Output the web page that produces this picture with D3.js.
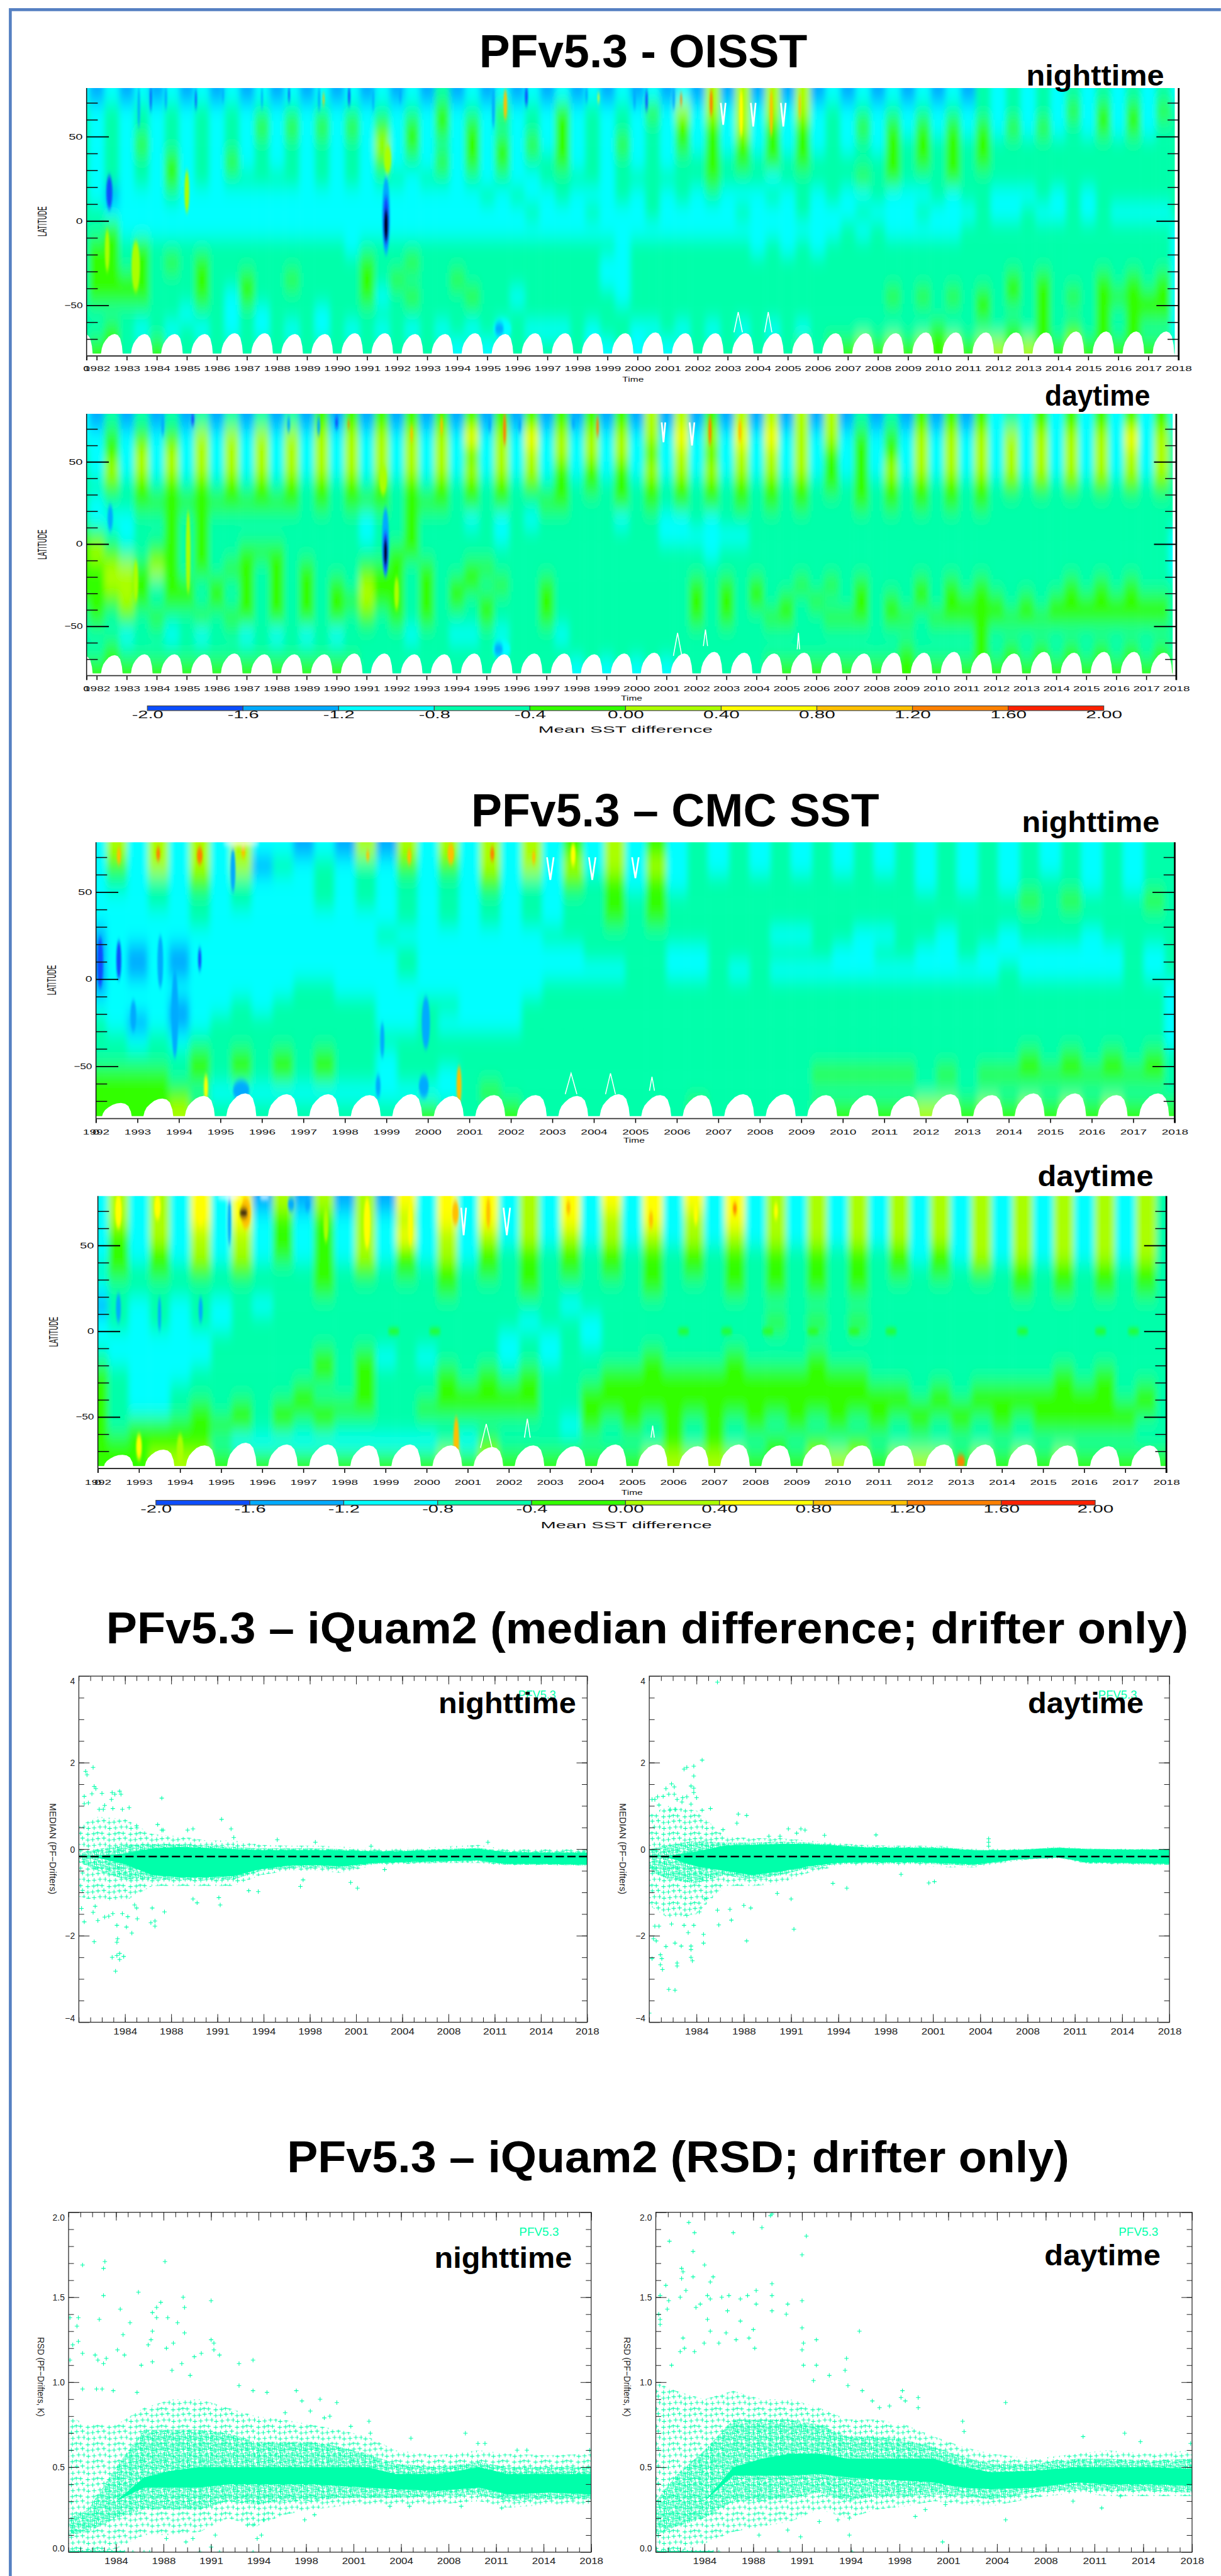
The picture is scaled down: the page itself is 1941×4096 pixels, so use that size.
<!DOCTYPE html>
<html>
<head>
<meta charset="utf-8">
<style>
  html, body { margin: 0; padding: 0; background: #fff; }
  svg { display: block; }
  text { font-family: "Liberation Sans", Arial, sans-serif; }
</style>
<script src="https://cdn.jsdelivr.net/npm/d3@7"></script>
</head>
<body>
<div id="chart"></div>
<script>
// colour bar of the four latitude/time panels
const barTicks = [-2, -1.6, -1.2, -0.8, -0.4, 0, 0.4, 0.8, 1.2, 1.6, 2]
const barLabels = ["-2.0", "-1.6", "-1.2", "-0.8", "-0.4", "0.00", "0.40", "0.80", "1.20", "1.60", "2.00"]
const barColors = ["#0b4dff", "#00aaff", "#00ffff", "#00ffaa", "#33ff00", "#aaff00", "#ffff00", "#ffc000", "#ff8000", "#ff2000"]
// one code per cell: 0 is below the scale, 1-9 and a are the ten colour bar classes
const cellValues = { "0": -2.3, "1": -1.8, "2": -1.4, "3": -1, "4": -0.6, "5": -0.2, "6": 0.2, "7": 0.6, "8": 1, "9": 1.4, a: 1.8 }

// rows run from 80N to 80S in 10 degree bands, two cells a year
const oisstNight = [
  "3 2323232323 2323232323 2324232323 2323232323 2626262623 2323232324 3434343434 34 3",
  "4 3434343434 3434343434 3435343534 3534343536 3636363634 3434343434 3434353535 35 4",
  "4 3434343434 3535353535 3535353434 3534343435 3536353534 3535353535 3535343535 34 4",
  "4 3435343434 3434343436 3534353535 3534353435 3535353534 3435454545 4444444444 44 4",
  "4 3434353435 3434343435 3435353534 4534343434 4545454544 4445454545 4444444444 44 4",
  "4 3434353434 4444343434 4344343433 4444344444 4544434444 4545444544 4444444444 44 4",
  "4 3233343333 3333333333 3333334343 3433343434 3433343434 3343334344 3334343444 44 4",
  "4 4333333333 3333333333 3333333334 3334333433 3334333433 3433343334 3343343433 33 4",
  "4 4533333333 3333333333 3333333333 3333333333 3333333333 4343333344 4444444444 44 3",
  "4 5545444444 4444444344 4444444444 4444434444 4444343434 4444444444 4444444444 44 3",
  "4 5545454544 4444444454 4544444444 4444334444 4444444444 4444444444 4444444444 44 3",
  "4 5555444544 5445444454 5444544444 4444334444 4444444444 4444444444 4545444545 45 3",
  "4 5555444543 5444444453 4544454434 4444434444 4444444444 4445454545 4545454555 55 3",
  "4 4444443443 4344434444 4444444444 4444444444 4444444444 4444444445 4445444545 55 3",
  "4 4543434343 4343434343 4343434343 3343443343 4343434344 4444445444 4545454545 44 3",
  "4 5544544444 4444444444 4444343444 4443343434 4444444545 5656565656 6565565555 55 4"
]
const oisstDay = [
  "3 2424242424 2424252525 2525252525 2525252626 2526262626 2424252525 3435353535 35 3",
  "3 3535353636 3636363636 3636373637 3636363637 3637373636 3535363636 3636363637 36 4",
  "4 3536363636 3636363636 3636353636 3636363536 3536363635 3535363636 3636363636 36 4",
  "4 3636363636 3636363636 3636363636 3535353636 3636363635 3536363636 3636363636 36 4",
  "4 4545454545 4545454545 4545454545 4545454545 4545454545 4545454545 4545454545 45 4",
  "4 3445555555 5555454555 4555454544 5544454545 4545454544 4545454545 4444444444 44 4",
  "4 3334454544 4444444434 4544434343 4444434433 4344444444 4444444444 4444444444 44 4",
  "5 5434454544 4444444434 4544444344 4444444433 3333444444 4444444444 4444444444 44 3",
  "5 6544554544 5554444444 5544444444 4444444444 4344444444 4444444444 4444444444 44 3",
  "5 5665654545 5454544455 5454455444 4444444444 4444444444 4444444444 4444444444 44 3",
  "5 5665455454 5454545465 5454554544 5444444444 5454544545 4544454545 4444454545 44 4",
  "5 5565455454 5454545565 5454545444 5444444444 5454545454 4545454555 5454555555 55 4",
  "4 5454544545 5454545454 5454445444 5444444444 5454455445 5545545555 5555555555 55 4",
  "4 4434434344 3434343444 4344334344 4344444444 4444444444 4444444445 4444444444 44 4",
  "4 4544444444 4444444444 4444444444 4444444444 4444444444 4444544445 4545454545 45 4",
  "5 5555555555 5555555544 4444444444 4434343434 4444455555 5555555555 5555555555 55 5"
]
const cmcNight = [
  "3636363633 2326263636 3635363534 3434343434 3434343434 34 4",
  "3536363624 3434353536 3636363634 3434343434 3434343434 34 4",
  "3434353433 3434343435 3435453534 4444444444 3434344434 34 4",
  "3334343433 3434343434 3434454544 4444444444 4444454544 45 4",
  "3333343333 3333343434 3434454544 4444444444 4444444444 44 4",
  "2333333333 3333433333 3344444444 4443344334 4344344434 44 4",
  "2323233333 3333343333 3333444433 4444443344 3343333333 43 4",
  "2323233333 3333343333 3333334433 4343333333 3333433333 43 4",
  "2333333333 4433333333 3344444444 4444444444 4444444444 44 3",
  "3333233434 4444334433 3444444444 4444444444 4444444444 44 3",
  "4323234444 4444334333 3444444444 4444444444 4444444444 44 3",
  "4434344444 4444444444 4444444444 4444444444 4444444444 44 3",
  "4444454545 4544344444 4444444444 4444444444 4444454545 45 4",
  "5555454545 4544344344 4444444444 4444455555 4545555555 55 4",
  "5555543333 3333333345 4444444444 4444444444 4444444444 44 4",
  "5555654444 4444445444 5444444445 4444455555 6656565656 55 5"
]
const cmcDay = [
  "3636373726 2626273737 3637373737 3736363636 3636363636 36 4",
  "3636373735 3536363737 3637363736 3736363636 3636363636 36 4",
  "3536363635 3536373636 3636363636 3636363636 3636363636 36 4",
  "3535363635 3536353635 4545454545 4545454545 3536363636 36 4",
  "4545454544 4545454545 4545454545 4545454545 4545454545 45 4",
  "3444444444 4544444544 4544444544 4545454544 4444454545 45 4",
  "2434343434 4444444444 4443444444 4444444444 4444444444 44 4",
  "3434343444 4444444444 4344344444 4445454544 4444444444 44 4",
  "3333334444 4444444444 3434344444 4444444444 4444444444 44 4",
  "4333334444 4545343444 3434444544 4544454444 4444444444 44 4",
  "5433344444 4545444545 4544455555 5555555544 4444444545 44 4",
  "5433444444 5445444555 5544555555 5555555555 4545555555 45 4",
  "5433454545 5555445555 5544555555 5555555555 5555555555 55 4",
  "5455555545 4544444444 4443545454 5454545454 5454545555 54 4",
  "5555554333 3333333435 4444444454 5445454544 4444444444 44 4",
  "5556665555 5555555656 5555555666 6655566656 6656565655 55 5"
]

// narrow features the cells are too coarse for: year, top lat, bottom lat, half width in years, cell code
const oisstNightSpots = [
  [1983.4,80,55,.04,"2"],[1983.8,80,65,.03,"1"],[1984.3,80,66,.04,"2"],[1985.3,78,66,.03,"1"],[1986.2,80,70,.03,"2"],
  [1987.5,80,66,.03,"2"],[1988.4,80,70,.03,"1"],[1989.4,80,65,.04,"2"],[1990.4,80,68,.04,"1"],[1991.2,78,65,.03,"2"],
  [1992.1,80,70,.04,"2"],[1995.2,80,55,.05,"2"],[1996.3,80,68,.05,"1"],[1998.3,80,70,.04,"2"],[1999.9,80,66,.04,"2"],
  [2000.3,78,65,.04,"1"],[2001.2,80,66,.04,"2"],[1991.68,45,28,.12,"6"],[1985,30,5,.08,"6"],[1982.35,-5,-30,.08,"6"],
  [1983.3,-12,-42,.14,"6"],[1995.5,-58,-70,.3,"3"],[1995.4,-60,-68,.15,"2"],[1995.6,78,60,.06,"8"],[1989.55,76,68,.03,"8"],[1998.7,76,70,.03,"7"],
  [2002.45,78,62,.05,"9"],[2001.45,76,68,.03,"9"],[2003.45,78,50,.06,"7"],[2004.45,78,50,.05,"8"],[2005.4,76,60,.03,"8"],
  [1982.42,27,7,.1,"1"],[1991.63,26,-20,.13,"2"],[1991.63,15,-15,.1,"1"],[1991.63,7,-12,.07,"0"]
]
const oisstDaySpots = [
  [1984.2,80,66,.05,"2"],[1985.2,80,72,.05,"1"],[1988.4,78,68,.05,"2"],[1989.4,78,66,.05,"2"],[1990,78,70,.05,"1"],
  [1995.1,80,68,.05,"2"],[1996.1,78,68,.05,"2"],[1997.9,78,70,.05,"2"],[1991.55,48,30,.12,"6"],[1985.05,20,-30,.08,"6"],
  [1983.3,-10,-35,.08,"6"],[1992,-20,-40,.08,"6"],[1995.5,-58,-70,.3,"3"],[1995.4,-60,-68,.15,"2"],[1995.6,80,60,.05,"9"],[1998.7,78,65,.04,"9"],
  [1990.4,76,70,.03,"9"],[1992.5,72,62,.04,"8"],[1993.5,78,66,.04,"8"],[2002.45,78,60,.05,"9"],[2003.45,76,62,.05,"8"],
  [1982.45,24,8,.09,"2"],[1991.63,22,-20,.12,"2"],[1991.63,8,-18,.09,"1"],[1991.63,3,-13,.06,"0"]
]
const cmcNightSpots = [
  [1995.5,80,77,.45,"w"],[1992.1,24,-5,.07,"1"],[1992.55,22,0,.06,"1"],[1993.55,25,-5,.07,"2"],[1993.9,5,-45,.08,"2"],
  [1992.9,-12,-30,.07,"2"],[1994.5,18,5,.04,"1"],[1999.95,-10,-40,.1,"2"],[1998.9,-25,-45,.05,"2"],[1995.5,-58,-70,.2,"2"],
  [1998.8,-55,-68,.06,"2"],[1999.9,-55,-68,.12,"2"],[1995.3,75,50,.06,"2"],[2000.75,-50,-72,.06,"8"],[1994.65,-55,-70,.05,"7"],
  [1992.55,76,66,.05,"8"],[1993.5,76,68,.05,"9"],[1994.5,76,66,.07,"9"],[1995.55,76,70,.05,"8"],[1998.55,74,68,.04,"8"],
  [1999.55,75,66,.05,"8"],[2000.55,78,66,.08,"8"],[2001.55,76,68,.05,"9"],[2002.55,74,66,.04,"8"],[2003.5,78,65,.06,"7"]
]
const cmcDaySpots = [
  [1995.2,80,77,.3,"w"],[1996.05,80,77,.12,"w"],[1992.5,22,5,.06,"2"],[1993.5,20,0,.04,"2"],[1994.5,20,5,.05,"2"],
  [1995.2,78,50,.04,"2"],[1996.7,78,70,.08,"2"],[1997.1,78,70,.06,"2"],[2000.72,-50,-78,.07,"8"],[1993,-60,-75,.07,"7"],
  [1994,-60,-78,.08,"6"],[1992,-55,-78,.08,"5"],[2013,-72,-80,.1,"9"],[1992.5,80,60,.08,"7"],[1993.45,80,65,.08,"7"],
  [1994.5,80,62,.1,"7"],[1995.6,78,60,.12,"8"],[1997.55,72,52,.06,"6"],[1998.55,78,48,.08,"7"],[1999.6,76,50,.06,"7"],
  [2000.7,76,62,.08,"8"],[2001.5,78,60,.05,"8"],[2002.5,76,60,.05,"6"],[2003.45,76,68,.05,"8"],[2005.46,70,60,.05,"8"],
  [2006.55,75,62,.05,"7"],[2007.5,75,68,.05,"9"],[2008.5,75,65,.05,"7"],[1999.2,1.5,-1.5,.15,"5"],[2000.2,1.5,-1.5,.15,"5"],
  [2006.25,1.5,-1.5,.15,"5"],[2007.3,1.5,-1.5,.15,"5"],[2008.3,1.5,-1.5,.15,"5"],[2009.4,1.5,-1.5,.15,"5"],[2010.4,1.5,-1.5,.15,"5"],
  [2011.3,1.5,-1.5,.15,"5"],[2014.5,1.5,-1.5,.15,"5"],[2016.4,1.5,-1.5,.15,"5"],[2017.2,1.5,-1.5,.15,"5"],[1995.55,72,66,.1,"0"]
]

// thin white gaps in the maps: year, tip lat, end lat, half span in years
const oisstNightGaps = [[2002.85,57,70,.08],[2003.85,56,70,.08],[2004.85,56,70,.08],[2003.35,-54,-66,.14],[2004.35,-54,-66,.12]]
const oisstDayGaps = [[2000.9,62,74,.06],[2001.85,60,74,.08],[2001.37,-54,-68,.14],[2002.3,-52,-62,.07],[2005.4,-54,-64,.04]]
const cmcNightGaps = [[2002.95,57,70,.08],[2003.96,57,70,.08],[2005,58,70,.08],[2003.45,-54,-66,.14],[2004.4,-54,-66,.12],[2005.4,-56,-64,.06]]
const cmcDayGaps = [[2000.9,56,72,.06],[2001.95,56,72,.08],[2001.45,-54,-68,.14],[2002.45,-51,-62,.07],[2005.5,-55,-62,.04]]

// top of the white polar gap in each year, latitude
const oisstNightIce = [-67,-67,-67,-67,-67,-66.5,-66.5,-67,-67,-66.5,-66.5,-67,-67,-66.5,-67,-66.5,-66.5,-66.5,-66.5,-66,-66.5,-66.5,-66.5,-66.5,-66.5,-66.5,-66.5,-66.5,-66,-66,-66,-66,-66,-65.5,-65.5,-65.5,-65.5]
const oisstDayIce = [-68,-67.5,-67,-67,-67,-66.5,-67,-67,-67,-66.5,-66.5,-67,-67,-66.5,-67,-66.5,-66.5,-67,-66.5,-66,-66.5,-65.5,-66,-66.5,-66,-66,-66.5,-66,-66,-65.5,-66,-66.5,-65.5,-66,-65.5,-65.5,-66]
const cmcNightIce = [-71,-68.5,-67,-65.5,-66,-66,-66.5,-66,-67,-66.5,-66.5,-67,-66,-66.5,-66.5,-66,-66,-66.5,-66.5,-67,-66,-66.5,-65.5,-65.5,-66.5,-65.5]
const cmcDayIce = [-72,-69,-66.5,-65,-66,-66,-66.5,-66,-66.5,-67.5,-66.5,-67,-66,-66,-67,-66,-66.5,-66,-66.5,-66.5,-66,-66,-66,-66.5,-67,-66.5]
const iceFrac = [.13,.17,.22,.3,.4,.5,.6,.7,.78,.84,.87]
const iceLift = [0,.35,.55,.72,.88,.97,1,.95,.8,.45,0]

// the iQuam scatter plots
const xMajor = [1984,1987.4,1990.8,1994.2,1997.6,2001,2004.4,2007.8,2011.2,2014.6,2018]
const xMajorLabels = ["1984","1988","1991","1994","1998","2001","2004","2008","2011","2014","2018"]
const bandYears = [1980.6,1982,1984,1986,1988,1990,1992,1994,1996,1998,2000,2002,2004,2007,2010,2012,2015,2018]

const medNightOuterHi = [.55,.75,.7,.35,.3,.2,.2,.1,.08,.08,.06,.02,.02,.05,.1,0,0,0]
const medNightOuterLo = [-1.1,-1.2,-1.2,-.85,-.85,-.85,-.85,-.6,-.5,-.5,-.55,-.4,-.35,-.32,-.32,-.38,-.38,-.4]
const medNightDenseHi = [-.1,0,.1,.12,.12,.08,.05,.02,.02,.02,0,-.03,-.03,0,.03,-.05,-.06,-.06]
const medNightDenseLo = [-.3,-.5,-.7,-.7,-.72,-.72,-.7,-.5,-.43,-.42,-.45,-.35,-.32,-.3,-.28,-.36,-.36,-.38]
const medNightCoreHi = [-.15,-.15,-.1,.02,.05,.03,0,-.02,-.02,-.02,-.03,-.05,-.05,-.02,.01,-.07,-.08,-.08]
const medNightCoreLo = [-.16,-.2,-.35,-.6,-.65,-.65,-.62,-.46,-.38,-.37,-.4,-.33,-.3,-.28,-.26,-.34,-.34,-.36]

const medDayOuterHi = [.8,1,.9,.3,.25,.25,.2,.14,.1,.08,.08,.07,.02,.02,.06,.03,.02,.02]
const medDayOuterLo = [-1.3,-1.6,-1.5,-.85,-.85,-.8,-.55,-.4,-.38,-.38,-.38,-.42,-.42,-.27,-.22,-.33,-.36,-.38]
const medDayDenseHi = [0,.1,.2,.15,.15,.18,.15,.1,.06,.05,.05,.04,-.02,-.01,.04,.01,0,0]
const medDayDenseLo = [-.5,-.7,-.8,-.6,-.7,-.6,-.45,-.35,-.33,-.33,-.33,-.36,-.38,-.25,-.2,-.32,-.34,-.36]
const medDayCoreHi = [-.15,-.15,-.05,.08,.1,.12,.12,.08,.04,.03,.03,.02,-.03,-.02,.03,0,-.01,-.01]
const medDayCoreLo = [-.16,-.2,-.4,-.5,-.6,-.52,-.4,-.32,-.3,-.3,-.3,-.33,-.35,-.24,-.19,-.3,-.32,-.34]

const rsdNightOuterHi = [.8,.75,.75,.85,.9,.9,.85,.8,.78,.75,.72,.68,.6,.57,.6,.58,.57,.58]
const rsdNightOuterLo = [0,0,.02,.1,.1,.12,.2,.15,.22,.25,.27,.28,.28,.28,.3,.26,.28,.28]
const rsdNightDenseHi = [.2,.25,.5,.72,.72,.72,.7,.65,.65,.65,.62,.58,.52,.5,.53,.5,.5,.5]
const rsdNightDenseLo = [.1,.12,.2,.25,.25,.25,.3,.28,.3,.3,.32,.32,.32,.33,.34,.3,.31,.31]
const rsdNightCoreHi = [.2,.2,.3,.44,.48,.5,.5,.5,.5,.5,.5,.5,.46,.46,.5,.46,.46,.46]
const rsdNightCoreLo = [.2,.2,.3,.38,.38,.38,.4,.4,.4,.4,.39,.38,.37,.36,.38,.34,.35,.34]

const rsdDayOuterHi = [1,.95,.9,.95,.9,.9,.85,.78,.78,.75,.68,.62,.58,.55,.58,.6,.58,.6]
const rsdDayOuterLo = [0,0,.05,.12,.15,.18,.25,.2,.25,.27,.3,.28,.27,.32,.35,.33,.33,.33]
const rsdDayDenseHi = [.3,.45,.6,.78,.78,.78,.75,.68,.68,.66,.62,.56,.52,.52,.55,.55,.54,.55]
const rsdDayDenseLo = [.1,.15,.2,.3,.3,.32,.35,.3,.33,.33,.34,.33,.31,.35,.37,.36,.36,.35]
const rsdDayCoreHi = [.3,.3,.3,.5,.55,.58,.58,.55,.55,.55,.55,.5,.47,.48,.5,.5,.5,.49]
const rsdDayCoreLo = [.3,.3,.3,.45,.45,.45,.46,.44,.43,.42,.41,.38,.37,.38,.41,.4,.4,.39]

// single crosses that stand clear of the cloud
const medNightPoints = [[1981.1,1.8],[1981.2,1.72],[1981.65,1.89],[1981.73,1.45],[1981.85,1.4],[1981.56,1.28],[1981,1.22],[1982.3,1.29],[1983.05,1.31],[1983.6,1.34],[1983.7,1.27],[1983.25,1.27],[1986.7,1.18],[1983,1.15],[1981.3,1.07],[1981,1.05],[1982.5,1.01],[1984.3,.96],[1982.1,.92],[1983.1,.94],[1982.4,.92],[1983.8,.92],[1991.1,.69],[1986.4,.57],[1984.85,.54],[1991.8,.47],[1989,.47],[1988.6,.44],[1986.7,.44],[1986.8,.44],[1995.2,.22],[1998,.16],[1992,.27],[2002.1,.07],[2010.7,.16],[1981.73,-2.14],[1983.05,-2.5],[1983.4,-2.46],[1983.6,-2.41],[1983.9,-2.48],[1983.6,-2.55],[1983.3,-2.82],[1983.45,-2.07],[1983.4,-2.15],[1984.5,-1.94],[1984.1,-1.8],[1983.4,-1.76],[1981,-1.68],[1982,-1.65],[1984.9,-1.61],[1985.9,-1.7],[1986.2,-1.78],[1986.2,-1.66],[1980.8,-1.37],[1981.8,-1.32],[1981.65,-1.46],[1982.5,-1.57],[1982.8,-1.55],[1983.1,-1.49],[1983.8,-1.49],[1984.2,-1.56],[1984.85,-1.36],[1984.7,-1.29],[1986,-1.36],[1986.9,-1.45],[1991,-1.29],[1990.9,-1.12],[1989.3,-1.24],[1989,-1.15],[1996.9,-.86],[2001.1,-.9],[1997.1,-.71],[1993.8,-.98],[1993.1,-.96],[2000.6,-.77],[2003.1,-.47]]
const medDayPoints = [[1985.5,3.86],[1984.4,2.06],[1983.8,1.92],[1983.3,1.89],[1983.1,1.85],[1983.8,1.69],[1982.2,1.51],[1982.4,1.44],[1983.6,1.46],[1983.8,1.41],[1983.8,1.31],[1981.8,1.4],[1982,1.27],[1982.4,1.27],[1981.6,1.22],[1981.2,1.21],[1984,1.19],[1983.3,1.21],[1983,1.19],[1982.6,1.15],[1982.95,1.09],[1980.8,1.15],[1981,1.15],[1981.3,1.02],[1983.6,1.04],[1985,.94],[1984.4,.9],[1982.1,.92],[1982.45,.92],[1987,.81],[1987.6,.78],[1986.9,.6],[1985.9,.45],[1990.6,.47],[1991.5,.47],[1991.8,.44],[1996.9,.33],[2005,.24],[2005,.16],[2005,.07],[1991.2,.37],[1989.2,.3],[1990,.3],[1993.2,.32],[1982.45,-3.26],[1982,-3.24],[1980.6,-3.79],[1982.6,-2.7],[1982.6,-2.63],[1981.55,-2.78],[1981.4,-2.67],[1981.5,-2.53],[1980.8,-2.53],[1981.4,-2.44],[1983.7,-2.58],[1983.6,-2.5],[1981.8,-2.25],[1982.45,-2.17],[1982.9,-2.24],[1983.6,-2.24],[1983.6,-2.32],[1984.5,-2.17],[1987.6,-2.12],[1991,-1.85],[1981.1,-2.12],[1980.9,-2.07],[1983.4,-1.93],[1984.5,-1.97],[1985.6,-1.75],[1986.5,-1.64],[1981,-1.78],[1981.3,-1.78],[1982.2,-1.73],[1983.1,-1.76],[1983.8,-1.76],[1983.3,-1.53],[1985.5,-1.41],[1986.4,-1.39],[1987.4,-1.3],[1987.9,-1.36],[1984.2,-1.45],[1984.6,-1.15],[1990.8,-1.15],[1989.8,-1.02],[2000.7,-.78],[2001.1,-.75],[1998.7,-.58],[1994.8,-.9],[1993.8,-.79]]
const rsdNightPoints = [[1981.6,1.69],[1983.2,1.71],[1983.1,1.67],[1983.1,1.51],[1987.5,1.71],[1985.6,1.53],[1988.8,1.5],[1988.9,1.44],[1990.8,1.48],[1987.2,1.47],[1986.9,1.44],[1984.3,1.43],[1986.6,1.41],[1987.7,1.38],[1986.9,1.38],[1980.7,1.38],[1981.3,1.38],[1981.2,1.33],[1982.8,1.37],[1985,1.35],[1988.4,1.35],[1984.5,1.28],[1986.6,1.3],[1988.9,1.29],[1990.8,1.25],[1991,1.23],[1981.3,1.24],[1980.9,1.22],[1986.5,1.25],[1986.3,1.22],[1987.6,1.2],[1988.1,1.23],[1982.5,1.16],[1981.6,1.17],[1984.6,1.16],[1984.1,1.19],[1983.3,1.14],[1982.7,1.13],[1983.1,1.11],[1993.8,1.13],[1992.8,1.11],[1991.4,1.16],[1990.1,1.17],[1989.6,1.15],[1991,1.19],[1986.6,1.12],[1985.8,1.1],[1988,1.07],[1988.7,1.11],[1989.3,1.04],[1980.7,1.13],[1981.6,.96],[1982.6,.96],[1983,.96],[1983.8,.95],[1985.5,.94],[1993.8,.95],[1994.8,.94],[1996.9,.95],[1997.3,.89],[1998.6,.9],[1999.8,.88],[1997.9,.83],[1999.3,.8],[1998.9,.79],[1992.8,.98],[2002.1,.77],[2000.8,.74],[1996.1,.82],[2009,.7],[2005.1,.67],[2010.4,.64],[2009.9,.64],[2002.2,.7],[2012.7,.6],[2013.4,.6],[2017.9,.6],[1994.1,.08],[1994.4,.1],[1993.4,.16],[1993.8,.16],[1994.6,.19],[1989,.06],[1989.5,.08],[1987.6,.08],[1991.1,.1],[1997.5,.19],[1998.2,.22],[2011.6,.26],[2008.7,.27],[2003.6,.27],[2005,.27],[1985.2,0],[1986,0],[1986.4,0],[1990,0],[1991.4,0],[1993.8,0],[1990.8,.03]]
const rsdDayPoints = [[1988.7,1.99],[1988.6,1.98],[1982.9,1.94],[1988,1.91],[1983.3,1.88],[1986,1.88],[1991.1,1.86],[1981.55,1.83],[1983.2,1.77],[1990.8,1.75],[1984,1.69],[1982.4,1.67],[1982.5,1.65],[1982.4,1.61],[1983.2,1.62],[1984.6,1.62],[1984.4,1.59],[1988.7,1.58],[1981.3,1.57],[1982.7,1.54],[1987.6,1.54],[1980.9,1.51],[1984.2,1.51],[1985.7,1.51],[1987,1.51],[1988.7,1.51],[1986.5,1.49],[1984.4,1.49],[1985.2,1.5],[1982.3,1.5],[1990.8,1.48],[1981.5,1.48],[1983.7,1.46],[1987.6,1.46],[1989.8,1.46],[1983.4,1.44],[1981.4,1.43],[1988.7,1.42],[1985.6,1.42],[1989.7,1.4],[1980.8,1.4],[1980.9,1.37],[1984.2,1.37],[1986.5,1.36],[1980.9,1.34],[1990.8,1.32],[1994.8,1.3],[1987.4,1.31],[1984.4,1.3],[1985.5,1.29],[1986.2,1.25],[1987.1,1.26],[1982.5,1.26],[1991.8,1.25],[1990.9,1.23],[1983.97,1.23],[1985,1.23],[1987.5,1.2],[1982.6,1.2],[1993.9,1.14],[1983.3,1.18],[1982.3,1.18],[1990.8,1.19],[1993.8,1.07],[1991.8,1.1],[1990.9,1.1],[1981.7,1.1],[1992.7,1.04],[1991.6,1.01],[1994,.98],[1997.8,.95],[1995,.95],[1998.9,.91],[1997.7,.91],[1998,.89],[1995.7,.89],[1996.2,.85],[1996.9,.86],[1998.9,.85],[2005,.88],[2002,.77],[2002.1,.71],[2010.4,.68],[2013.3,.7],[2014.4,.65],[2017.9,.64],[2000.6,.06],[1990.7,.09],[1994.1,.1],[1989.8,.13],[1987.8,.1],[1992,.18],[1993.3,.19],[1994.1,.2],[1998.7,.21],[2000.8,.28],[1999.4,.25],[2005,.19],[2011.7,.26],[2009.7,.3],[2013,.33],[1985,0],[1989.2,0],[1994.3,0]]
// the run of zero RSD values along the bottom of the early years
const rsdZeroYears = [1980.7,1981,1981.3,1981.6,1981.9,1982.2,1982.5,1982.8,1983.1,1983.4,1983.7,1984,1984.3,1984.6]

const PLUS = "M-4.5,0H4.5M0,-4.5V4.5"
const TEAL = "#00ffaa"

const svg = d3.select("#chart").append("svg")
  .attr("width", 1941).attr("height", 4096)
  .attr("viewBox", "0 0 2519 5317")

const defs = svg.append("defs")
const heatBlur = defs.append("filter").attr("id", "heatBlur").attr("filterUnits", "userSpaceOnUse")
  .attr("x", 0).attr("y", 0).attr("width", 2519).attr("height", 5317)
heatBlur.append("feGaussianBlur").attr("stdDeviation", "6 20")
const spotBlur = defs.append("filter").attr("id", "spotBlur").attr("filterUnits", "userSpaceOnUse")
  .attr("x", 0).attr("y", 0).attr("width", 2519).attr("height", 5317)
spotBlur.append("feGaussianBlur").attr("stdDeviation", "2 6")

function plusPattern(id, w, h, spots) {
  const p = defs.append("pattern").attr("id", id).attr("patternUnits", "userSpaceOnUse").attr("width", w).attr("height", h)
  spots.forEach(s => p.append("path").attr("d", PLUS).attr("transform", `translate(${s[0]},${s[1]})`)
    .attr("stroke", TEAL).attr("stroke-width", 1.4).attr("fill", "none"))
}
plusPattern("plusSparse", 44, 36, [[5,6],[25,3],[38,14],[15,17],[30,27],[6,30],[17,5],[34,4],[26,15],[5,18],[41,27],[18,29]])
plusPattern("plusDense", 24, 20, [[3,3],[11,1],[19,4],[7,8],[15,9],[22,11],[2,13],[10,15],[18,16],[5,18]])

// frame of the slide
svg.append("path").attr("d", "M21,5317V20H2519").attr("fill", "none").attr("stroke", "#5580c2").attr("stroke-width", 6)

function label(x, y, str, size, width, opts = {}) {
  return svg.append("text").attr("x", x).attr("y", y).text(str)
    .attr("font-size", size).attr("font-weight", opts.weight || "normal")
    .attr("fill", opts.fill || "#000")
    .attr("text-anchor", opts.anchor || "start")
    .attr("textLength", width).attr("lengthAdjust", "spacingAndGlyphs")
}

function rotatedLabel(x, y, str, size, width, angle, fill) {
  return svg.append("text").attr("transform", `translate(${x},${y}) rotate(${angle})`).text(str)
    .attr("font-size", size).attr("fill", fill).attr("text-anchor", "middle")
    .attr("textLength", width).attr("lengthAdjust", "spacingAndGlyphs")
}

function styleTicks(g, stroke, width) {
  g.select(".domain").remove()
  g.selectAll("line").attr("stroke", stroke).attr("stroke-width", width)
}

function heatPanel(p) {
  const x = d3.scaleLinear().domain(p.xDomain).range([p.left, p.right])
  const y = d3.scaleLinear().domain([-80, 80]).range([p.bottom, p.y80])
  const color = d3.scaleThreshold().domain(barTicks.slice(0, 10)).range(["#000010"].concat(barColors.slice(0, 9), [barColors[9]]))
  const rows = p.rows.map(r => r.replace(/ /g, ""))
  const latBands = d3.range(80, -80, -10)

  const clipId = "clip" + p.id
  defs.append("clipPath").attr("id", clipId).append("rect")
    .attr("x", p.left).attr("y", p.top).attr("width", x(p.dataEnd) - p.left).attr("height", p.bottom - p.top)
  const plot = svg.append("g").attr("clip-path", `url(#${clipId})`)

  const cells = []
  rows.forEach((row, r) => row.split("").forEach((c, i) => cells.push({ r, i, value: cellValues[c], last: i === row.length - 1 })))
  // outer cells run past the plot so the blur does not fade at the edges
  plot.append("g").attr("filter", "url(#heatBlur)")
    .selectAll("rect").data(cells).enter().append("rect")
    .attr("x", d => d.i === 0 ? p.left - 60 : x(p.t0 + d.i * 0.5 - 0.25))
    .attr("width", d => {
      const x0 = d.i === 0 ? p.left - 60 : x(p.t0 + d.i * 0.5 - 0.25)
      const x1 = d.last ? p.right + 60 : x(p.t0 + d.i * 0.5 + 0.25)
      return x1 - x0 + 0.5
    })
    .attr("y", d => d.r === 0 ? p.top - 80 : y(latBands[d.r]))
    .attr("height", d => {
      const y0 = d.r === 0 ? p.top - 80 : y(latBands[d.r])
      const y1 = d.r === 15 ? p.bottom + 60 : y(latBands[d.r] - 10)
      return y1 - y0 + 0.5
    })
    .attr("fill", d => color(d.value))

  plot.append("g").attr("filter", "url(#spotBlur)")
    .selectAll("ellipse").data(p.spots).enter().append("ellipse")
    .attr("cx", d => x(d[0]))
    .attr("cy", d => y((d[1] + d[2]) / 2))
    .attr("rx", d => x(d[0] + d[3]) - x(d[0]))
    .attr("ry", d => (y(d[2]) - y(d[1])) / 2)
    .attr("fill", d => d[4] === "w" ? "#fff" : color(cellValues[d[4]]))

  const gapLine = d3.line().x(d => x(d[0])).y(d => y(d[1]))
  plot.selectAll("path.gap").data(p.gaps).enter().append("path").attr("class", "gap")
    .attr("d", d => gapLine([[d[0] - d[3], d[2]], [d[0], d[1]], [d[0] + d[3], d[2]]]))
    .attr("fill", "none").attr("stroke", "#fff").attr("stroke-width", d => d[1] > 0 ? 3.5 : 2)

  // polar gaps, one arch a year
  const arch = d3.area().x(d => x(d[0])).y0(y(-80)).y1(d => y(d[1]))
  plot.selectAll("path.ice").data(p.ice).enter().append("path").attr("class", "ice")
    .attr("d", (top, i) => arch(iceFrac.map((f, k) => [p.iceStart + i + f, -80 + (top + 80) * iceLift[k]])))
    .attr("fill", "#fff")
  plot.append("rect").attr("x", p.left).attr("width", p.right - p.left)
    .attr("y", y(-78.6)).attr("height", y(-80) - y(-78.6)).attr("fill", "#fff")

  // axes
  const g = svg.append("g").attr("transform", `translate(0,${p.bottom})`)
    .call(d3.axisBottom(x).tickValues(p.yearTicks).tickSizeInner(9).tickSizeOuter(0).tickFormat(d => d === p.xDomain[0] && p.zeroAtStart ? "" : d))
  styleTicks(g, "#000", 2)
  g.selectAll("text").attr("y", p.labelY - p.bottom).attr("dy", "0.36em")
    .attr("font-size", 15).attr("fill", "#111").attr("textLength", d => d === p.xDomain[0] && p.zeroAtStart ? null : 55)
    .attr("lengthAdjust", "spacingAndGlyphs")
  // the origin carries a stray 0 under the first year label
  label(x(p.xDomain[0]), p.labelY + 5.5, "0", 15, 14, { anchor: "middle", fill: "#111" })
  label(p.timeX, p.timeY + 6, "Time", 14, 44, { anchor: "middle", fill: "#111" })

  const majorLat = [50, 0, -50]
  const minorLat = d3.range(-70, 71, 10).filter(d => !majorLat.includes(d))
  const yLeft = svg.append("g").attr("transform", `translate(${p.left},0)`)
  yLeft.append("g").call(d3.axisLeft(y).tickValues(minorLat).tickSizeInner(-23).tickSizeOuter(0).tickFormat(""))
    .call(s => styleTicks(s, "#111", 2))
  const yMajor = yLeft.append("g").call(d3.axisLeft(y).tickValues(majorLat).tickSizeInner(-46).tickSizeOuter(0).tickPadding(8))
    .call(s => styleTicks(s, "#000", 2.5))
  yMajor.selectAll("text").attr("font-size", 16).attr("fill", "#111").attr("text-anchor", "end")
    .attr("textLength", d => d === 0 ? 14 : d > 0 ? 29 : 38).attr("lengthAdjust", "spacingAndGlyphs")
  const yRight = svg.append("g").attr("transform", `translate(${p.right},0)`)
  yRight.append("g").call(d3.axisRight(y).tickValues(minorLat).tickSizeInner(-23).tickSizeOuter(0).tickFormat(""))
    .call(s => styleTicks(s, "#111", 2))
  yRight.append("g").call(d3.axisRight(y).tickValues(majorLat).tickSizeInner(-46).tickSizeOuter(0).tickFormat(""))
    .call(s => styleTicks(s, "#000", 2.5))

  svg.append("line").attr("x1", p.left).attr("x2", p.left).attr("y1", p.top).attr("y2", p.bottom + 9).attr("stroke", "#111").attr("stroke-width", 2)
  svg.append("line").attr("x1", p.left).attr("x2", p.right).attr("y1", p.bottom).attr("y2", p.bottom).attr("stroke", "#333").attr("stroke-width", 2.5)
  svg.append("line").attr("x1", p.right).attr("x2", p.right).attr("y1", p.top).attr("y2", p.bottom + 9).attr("stroke", "#000").attr("stroke-width", 3.5)

  rotatedLabel(p.latX, p.latY, "LATITUDE", 26, 62, -90, "#111")
}

function colorBar(p) {
  const x = d3.scaleLinear().domain([-2, 2]).range([p.x0, p.x1])
  const segs = d3.pairs(barTicks)
  svg.append("g").selectAll("rect").data(segs).enter().append("rect")
    .attr("x", d => x(d[0])).attr("width", d => x(d[1]) - x(d[0]))
    .attr("y", p.y).attr("height", p.h)
    .attr("fill", (d, i) => barColors[i]).attr("stroke", "#444").attr("stroke-width", 1.6)
  const g = svg.append("g").attr("transform", `translate(0,${p.y + p.h})`)
    .call(d3.axisBottom(x).tickValues(barTicks).tickSize(0).tickFormat((d, i) => barLabels[i]))
  g.select(".domain").remove()
  g.selectAll("text").attr("y", p.labelY - p.y - p.h).attr("dy", "0.36em")
    .attr("font-size", 21).attr("fill", "#111")
    .attr("textLength", d => d < 0 ? 65 : 75).attr("lengthAdjust", "spacingAndGlyphs")
  label(p.titleX, p.titleY + 7, "Mean SST difference", 18, p.titleW, { fill: "#111" })
}

function scatterPanel(p) {
  const x = d3.scaleLinear().domain([1980.6, 2018]).range([p.left, p.right])
  const y = d3.scaleLinear().domain(p.yDomain).range([p.bottom, p.top])

  const clipId = "clip" + p.id
  defs.append("clipPath").attr("id", clipId).append("rect")
    .attr("x", p.left).attr("y", p.top).attr("width", p.right - p.left).attr("height", p.bottom - p.top)
  const plot = svg.append("g").attr("clip-path", `url(#${clipId})`)

  const band = (hi, lo) => d3.area().x(d => x(d)).y0((d, i) => y(lo[i])).y1((d, i) => y(hi[i]))(bandYears)
  plot.append("path").attr("d", band(p.outerHi, p.outerLo)).attr("fill", "url(#plusSparse)")
  plot.append("path").attr("d", band(p.denseHi, p.denseLo)).attr("fill", "url(#plusDense)")
  plot.append("path").attr("d", band(p.coreHi, p.coreLo)).attr("fill", TEAL)

  plot.selectAll("path.pt").data(p.points).enter().append("path").attr("class", "pt")
    .attr("d", PLUS).attr("transform", d => `translate(${x(d[0])},${y(d[1])})`)
    .attr("stroke", TEAL).attr("stroke-width", 1.4).attr("fill", "none")

  if (p.zeroYears) {
    plot.selectAll("path.zero").data(p.zeroYears).enter().append("path").attr("class", "zero")
      .attr("d", PLUS).attr("transform", d => `translate(${x(d)},${y(0)})`)
      .attr("stroke", TEAL).attr("stroke-width", 1.6).attr("fill", "none")
    svg.append("path").attr("d", d3.line().x(d => x(d)).y(y(0) - 1)(d3.extent(p.zeroYears)))
      .attr("stroke", TEAL).attr("stroke-width", 3)
  }

  if (p.refLine !== undefined) {
    plot.append("line").attr("x1", p.left).attr("x2", p.right).attr("y1", y(p.refLine)).attr("y2", y(p.refLine))
      .attr("stroke", "#000").attr("stroke-width", 3.2).attr("stroke-dasharray", "17 7")
  }

  // ticks on all four sides, pointing in
  const xMinor = d3.range(1980.6, 2018.01, 0.85)
  const bottom = svg.append("g").attr("transform", `translate(0,${p.bottom})`)
  bottom.append("g").call(d3.axisTop(x).tickValues(xMinor).tickSize(10).tickFormat("")).call(s => styleTicks(s, "#222", 1.3))
  bottom.append("g").call(d3.axisTop(x).tickValues(xMajor).tickSize(17).tickFormat("")).call(s => styleTicks(s, "#222", 1.3))
  const xl = bottom.append("g").call(d3.axisBottom(x).tickValues(xMajor).tickSize(0).tickFormat((d, i) => xMajorLabels[i]))
  xl.select(".domain").remove()
  xl.selectAll("text").attr("y", p.labelY - p.bottom).attr("dy", "0.36em").attr("font-size", 18).attr("fill", "#222")
    .attr("textLength", 49).attr("lengthAdjust", "spacingAndGlyphs")
  const top = svg.append("g").attr("transform", `translate(0,${p.top})`)
  top.append("g").call(d3.axisBottom(x).tickValues(xMinor).tickSize(10).tickFormat("")).call(s => styleTicks(s, "#222", 1.3))
  top.append("g").call(d3.axisBottom(x).tickValues(xMajor).tickSize(17).tickFormat("")).call(s => styleTicks(s, "#222", 1.3))

  const left = svg.append("g").attr("transform", `translate(${p.left},0)`)
  const right = svg.append("g").attr("transform", `translate(${p.right},0)`)
  left.append("g").call(d3.axisRight(y).tickValues(p.yMinor).tickSize(11).tickFormat("")).call(s => styleTicks(s, "#222", 1.3))
  left.append("g").call(d3.axisRight(y).tickValues(p.yMajor).tickSize(22).tickFormat("")).call(s => styleTicks(s, "#222", 1.3))
  right.append("g").call(d3.axisLeft(y).tickValues(p.yMinor).tickSize(11).tickFormat("")).call(s => styleTicks(s, "#222", 1.3))
  right.append("g").call(d3.axisLeft(y).tickValues(p.yMajor).tickSize(22).tickFormat("")).call(s => styleTicks(s, "#222", 1.3))
  const yl = left.append("g").call(d3.axisLeft(y).tickValues(p.yMajor).tickSize(0).tickPadding(p.yPad).tickFormat(p.yFormat))
  yl.select(".domain").remove()
  yl.selectAll("text").attr("font-size", 18).attr("fill", "#222")
    .attr("dy", d => d === p.yDomain[1] ? "0.9em" : d === p.yDomain[0] ? "-0.1em" : "0.36em")

  svg.append("rect").attr("x", p.left).attr("y", p.top).attr("width", p.right - p.left).attr("height", p.bottom - p.top)
    .attr("fill", "none").attr("stroke", "#222").attr("stroke-width", 1.6)

  rotatedLabel(p.titleX, p.titleY, p.title, 19, p.titleW, 90, "#222")
  label(p.tagX, p.tagY, "PFV5.3", 24, p.tagW, { fill: TEAL })
}

heatPanel({
  id: "a", rows: oisstNight, spots: oisstNightSpots, gaps: oisstNightGaps, ice: oisstNightIce, iceStart: 1981, t0: 1981.5,
  xDomain: [1981.663, 2018.01], left: 178.4, right: 2432, dataEnd: 2017.88, top: 181.6, bottom: 734.7, y80: 177.5,
  yearTicks: [1981.663].concat(d3.range(1982, 2019)), zeroAtStart: true, labelY: 760.7, timeX: 1306, timeY: 781.6, latX: 96, latY: 457
})
heatPanel({
  id: "b", rows: oisstDay, spots: oisstDaySpots, gaps: oisstDayGaps, ice: oisstDayIce, iceStart: 1981, t0: 1981.5,
  xDomain: [1981.662, 2018], left: 178.4, right: 2427, dataEnd: 2017.88, top: 854, bottom: 1394.6, y80: 851.5,
  yearTicks: [1981.662].concat(d3.range(1982, 2019)), zeroAtStart: true, labelY: 1421, timeX: 1303, timeY: 1440.7, latX: 96, latY: 1124
})
heatPanel({
  id: "c", rows: cmcNight, spots: cmcNightSpots, gaps: cmcNightGaps, ice: cmcNightIce, iceStart: 1992, t0: 1992,
  xDomain: [1992, 2018], left: 197.8, right: 2423.9, dataEnd: 2018, top: 1738.4, bottom: 2308.8, y80: 1733.5,
  yearTicks: d3.range(1992, 2019), zeroAtStart: false, labelY: 2336.8, timeX: 1308, timeY: 2353, latX: 115, latY: 2023
})
heatPanel({
  id: "d", rows: cmcDay, spots: cmcDaySpots, gaps: cmcDayGaps, ice: cmcDayIce, iceStart: 1992, t0: 1992,
  xDomain: [1992, 2018], left: 201.7, right: 2406.6, dataEnd: 2018, top: 2468.5, bottom: 3031, y80: 2464.6,
  yearTicks: d3.range(1992, 2019), zeroAtStart: false, labelY: 3059, timeX: 1304, timeY: 3079, latX: 119, latY: 2749
})

colorBar({ x0: 303.8, x1: 2277.4, y: 1457, h: 9.7, labelY: 1475, titleX: 1110.6, titleY: 1505, titleW: 360 })
colorBar({ x0: 321.4, x1: 2259.7, y: 3096.8, h: 9.7, labelY: 3115, titleX: 1115.4, titleY: 3146.8, titleW: 353.4 })

const medMajor = [-4, -2, 0, 2, 4]
const medMinor = d3.range(-3.5, 4, 0.5)
const medFormat = d => String(d).replace("-", "\u2212")
const rsdMajor = [0, 0.5, 1, 1.5, 2]
const rsdMinor = d3.range(0.1, 2, 0.1)
const rsdFormat = d3.format(".1f")

scatterPanel({
  id: "e", left: 162.4, right: 1211.4, top: 3459.6, bottom: 4174, yDomain: [-4, 4], refLine: -0.17, labelY: 4193,
  yMajor: medMajor, yMinor: medMinor, yFormat: medFormat, yPad: 8,
  outerHi: medNightOuterHi, outerLo: medNightOuterLo, denseHi: medNightDenseHi, denseLo: medNightDenseLo, coreHi: medNightCoreHi, coreLo: medNightCoreLo,
  points: medNightPoints, title: "MEDIAN (PF\u2212Drifters)", titleX: 102, titleY: 3816, titleW: 188, tagX: 1069, tagY: 3506, tagW: 78
})
scatterPanel({
  id: "f", left: 1339.5, right: 2413, top: 3459.6, bottom: 4174, yDomain: [-4, 4], refLine: -0.17, labelY: 4193,
  yMajor: medMajor, yMinor: medMinor, yFormat: medFormat, yPad: 8,
  outerHi: medDayOuterHi, outerLo: medDayOuterLo, denseHi: medDayDenseHi, denseLo: medDayDenseLo, coreHi: medDayCoreHi, coreLo: medDayCoreLo,
  points: medDayPoints, title: "MEDIAN (PF\u2212Drifters)", titleX: 1278, titleY: 3816, titleW: 188, tagX: 2266, tagY: 3506, tagW: 80
})
scatterPanel({
  id: "g", left: 141.2, right: 1219.6, top: 4566.3, bottom: 5267.8, yDomain: [0, 2], labelY: 5285.5,
  yMajor: rsdMajor, yMinor: rsdMinor, yFormat: rsdFormat, yPad: 8,
  outerHi: rsdNightOuterHi, outerLo: rsdNightOuterLo, denseHi: rsdNightDenseHi, denseLo: rsdNightDenseLo, coreHi: rsdNightCoreHi, coreLo: rsdNightCoreLo,
  points: rsdNightPoints, zeroYears: rsdZeroYears, title: "RSD (PF\u2212Drifters, K)", titleX: 77, titleY: 4906, titleW: 164, tagX: 1071, tagY: 4615, tagW: 82
})
scatterPanel({
  id: "h", left: 1353, right: 2459.6, top: 4566.3, bottom: 5267.8, yDomain: [0, 2], labelY: 5285.5,
  yMajor: rsdMajor, yMinor: rsdMinor, yFormat: rsdFormat, yPad: 8,
  outerHi: rsdDayOuterHi, outerLo: rsdDayOuterLo, denseHi: rsdDayDenseHi, denseLo: rsdDayDenseLo, coreHi: rsdDayCoreHi, coreLo: rsdDayCoreLo,
  points: rsdDayPoints, zeroYears: rsdZeroYears, title: "RSD (PF\u2212Drifters, K)", titleX: 1288, titleY: 4906, titleW: 164, tagX: 2308, tagY: 4615, tagW: 82
})

// headings sit over everything
const bold = { weight: "bold" }
label(988.4, 139, "PFv5.3 - OISST", 97, 677, bold)
label(972, 1706, "PFv5.3 \u2013 CMC SST", 97, 842, bold)
label(218.8, 3392.4, "PFv5.3 \u2013 iQuam2 (median difference; drifter only)", 92, 2233, bold)
label(592, 4483, "PFv5.3 \u2013 iQuam2 (RSD; drifter only)", 92, 1614, bold)

label(2117.6, 176, "nighttime", 61, 284.4, bold)
label(2156, 837, "daytime", 61, 217, bold)
label(2108.4, 1717, "nighttime", 61, 284, bold)
label(2141, 2448, "daytime", 61, 239, bold)
label(904.5, 3536, "nighttime", 61, 284, bold)
label(2120.8, 3536, "daytime", 61, 239, bold)
label(896, 4681.5, "nighttime", 61, 284, bold)
label(2155, 4676, "daytime", 61, 239.6, bold)
</script>
</body>
</html>
